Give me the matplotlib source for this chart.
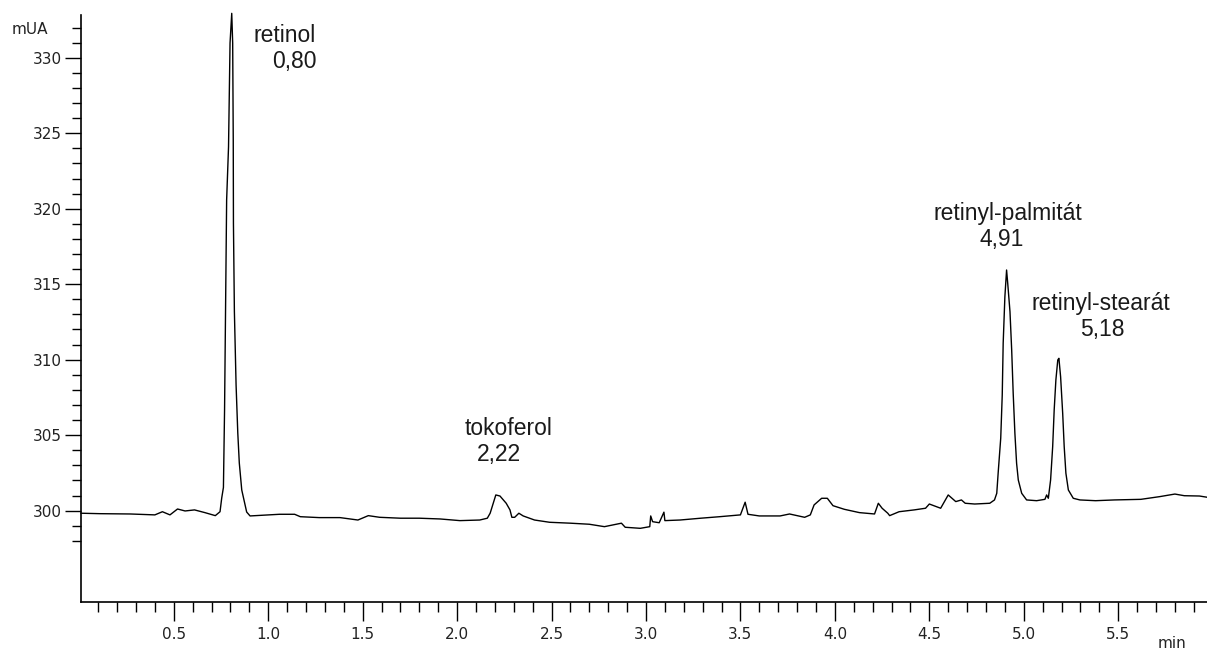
import matplotlib
matplotlib.use("Agg")
import matplotlib.pyplot as plt
from matplotlib.ticker import MultipleLocator, FormatStrFormatter, FixedLocator

# chromatogram trace (time in min, signal in mUA)
time_min = [
    0.01, 0.11, 0.27, 0.40, 0.44, 0.48, 0.52, 0.56, 0.61, 0.665, 0.72, 0.745,
    0.754, 0.763, 0.769, 0.775, 0.780, 0.790, 0.798, 0.807,
    0.812, 0.815, 0.816, 0.821, 0.830, 0.839, 0.847, 0.860, 0.886,
    0.904, 1.01, 1.06, 1.14, 1.17, 1.27, 1.38, 1.475, 1.53, 1.59, 1.70, 1.80,
    1.91, 2.015, 2.12, 2.16, 2.175, 2.205, 2.227, 2.26, 2.28, 2.29, 2.305,
    2.327, 2.35, 2.41, 2.49, 2.60, 2.70, 2.78, 2.87, 2.89, 2.97, 3.02, 3.025,
    3.035, 3.07, 3.095, 3.10, 3.18, 3.29, 3.39, 3.50, 3.525, 3.54, 3.60, 3.71,
    3.76, 3.84, 3.87, 3.89, 3.93, 3.96, 3.99, 4.05, 4.13, 4.21, 4.23, 4.25,
    4.28, 4.29, 4.34, 4.42, 4.48, 4.50, 4.56, 4.60, 4.64, 4.67, 4.69, 4.74,
    4.82, 4.845,
    4.857, 4.865, 4.878, 4.886, 4.891, 4.900, 4.909, 4.915, 4.927, 4.936,
    4.944, 4.953, 4.962, 4.971, 4.989, 5.015, 5.068, 5.112, 5.121, 5.130,
    5.142, 5.153, 5.161, 5.170, 5.180, 5.186, 5.195, 5.206, 5.214, 5.223,
    5.236, 5.262, 5.297, 5.38, 5.48, 5.62, 5.72, 5.80, 5.85, 5.93, 5.97,
]
signal_mua = [
    299.83, 299.80, 299.78, 299.72, 299.93, 299.72, 300.11, 299.98, 300.05, 299.87, 299.67, 299.93,
    300.84, 301.54, 306.67, 314.42, 320.58, 324.09, 330.97, 332.94,
    330.97, 324.54, 319.04, 313.20, 308.32, 305.15, 303.16, 301.37, 299.91,
    299.65, 299.72, 299.76, 299.76, 299.60, 299.54, 299.54, 299.38, 299.67, 299.56, 299.50, 299.50,
    299.45, 299.34, 299.38, 299.50, 299.83, 301.04, 300.97, 300.49, 300.05, 299.56, 299.56,
    299.83, 299.65, 299.38, 299.23, 299.17, 299.10, 298.94, 299.17, 298.90, 298.83, 298.94, 299.65,
    299.27, 299.20, 299.90, 299.34, 299.38, 299.50, 299.60, 299.72, 300.56, 299.76, 299.65, 299.65,
    299.78, 299.56, 299.72, 300.38, 300.82, 300.82, 300.33, 300.09, 299.87, 299.78, 300.49, 300.16,
    299.83, 299.67, 299.93, 300.05, 300.16, 300.44, 300.16, 301.04, 300.60, 300.71, 300.49, 300.44,
    300.49, 300.71,
    301.15, 302.60, 304.80, 307.66, 311.10, 314.17, 315.94, 315.06, 313.18, 310.64,
    307.77, 305.12, 303.14, 302.03, 301.15, 300.71, 300.66, 300.75, 301.04, 300.82,
    302.03, 304.24, 306.67, 308.66, 309.98, 310.09, 308.87, 306.45, 304.24, 302.48,
    301.37, 300.82, 300.71, 300.66, 300.71, 300.75, 300.93, 301.10, 300.99, 300.97, 300.89,
]

peak_names = ["retinol", "tokoferol", "retinyl-palmitát", "retinyl-stearát"]
peak_times = ["0,80", "2,22", "4,91", "5,18"]

# label placement (data coords): name line, retention time line
name_pos = [(1.087, 331.5), (2.27, 305.46), (4.915, 319.7), (5.409, 313.74)]
time_pos = [(1.138, 329.73), (2.222, 303.69), (4.885, 317.93), (5.414, 311.97)]

W, H = 1207, 650
fig = plt.figure(figsize=(W / 100, H / 100), dpi=100)
ax = fig.add_axes([81 / W, 48 / H, (W - 81) / W, 587 / H])

ax.plot(time_min, signal_mua, color="black", lw=1.0, clip_on=False)

ax.set_xlim(0.009, 5.97)
ax.set_ylim(293.95, 332.83)

for s in ["top", "right"]:
    ax.spines[s].set_visible(False)
for s in ["left", "bottom"]:
    ax.spines[s].set_linewidth(1.2)

ax.set_yticks([300, 305, 310, 315, 320, 325, 330])
ax.yaxis.set_minor_locator(FixedLocator(list(range(298, 333))))
ax.yaxis.set_major_formatter(FormatStrFormatter("%d"))

ax.xaxis.set_major_locator(MultipleLocator(0.5))
ax.xaxis.set_minor_locator(MultipleLocator(0.1))
ax.xaxis.set_major_formatter(FormatStrFormatter("%.1f"))

ax.tick_params(axis="y", which="major", length=11.5, width=1.0, pad=2,
               labelsize=11, labelcolor="#222222")
ax.tick_params(axis="y", which="minor", length=6.5, width=1.0)
ax.tick_params(axis="x", which="major", length=13.7, width=1.0, pad=4,
               labelsize=11, labelcolor="#222222")
ax.tick_params(axis="x", which="minor", length=6.9, width=1.0)
for lab in ax.get_xticklabels() + ax.get_yticklabels():
    lab.set_family("DejaVu Sans")

fig.text(12 / W, 1 - 29 / H, "mUA", ha="left", va="center",
         fontsize=11, color="#222222", family="DejaVu Sans")
fig.text(1172 / W, 1 - 643 / H, "min", ha="center", va="center",
         fontsize=11, color="#222222", family="DejaVu Sans")

for name, rt, npos, tpos in zip(peak_names, peak_times, name_pos, time_pos):
    ax.text(npos[0], npos[1], name, ha="center", va="center",
            fontsize=16.5, family="Liberation Sans", color="#1a1a1a")
    ax.text(tpos[0], tpos[1], rt, ha="center", va="center",
            fontsize=16.5, family="Liberation Sans", color="#1a1a1a")

fig.savefig("out.png", dpi=100, facecolor="white")
